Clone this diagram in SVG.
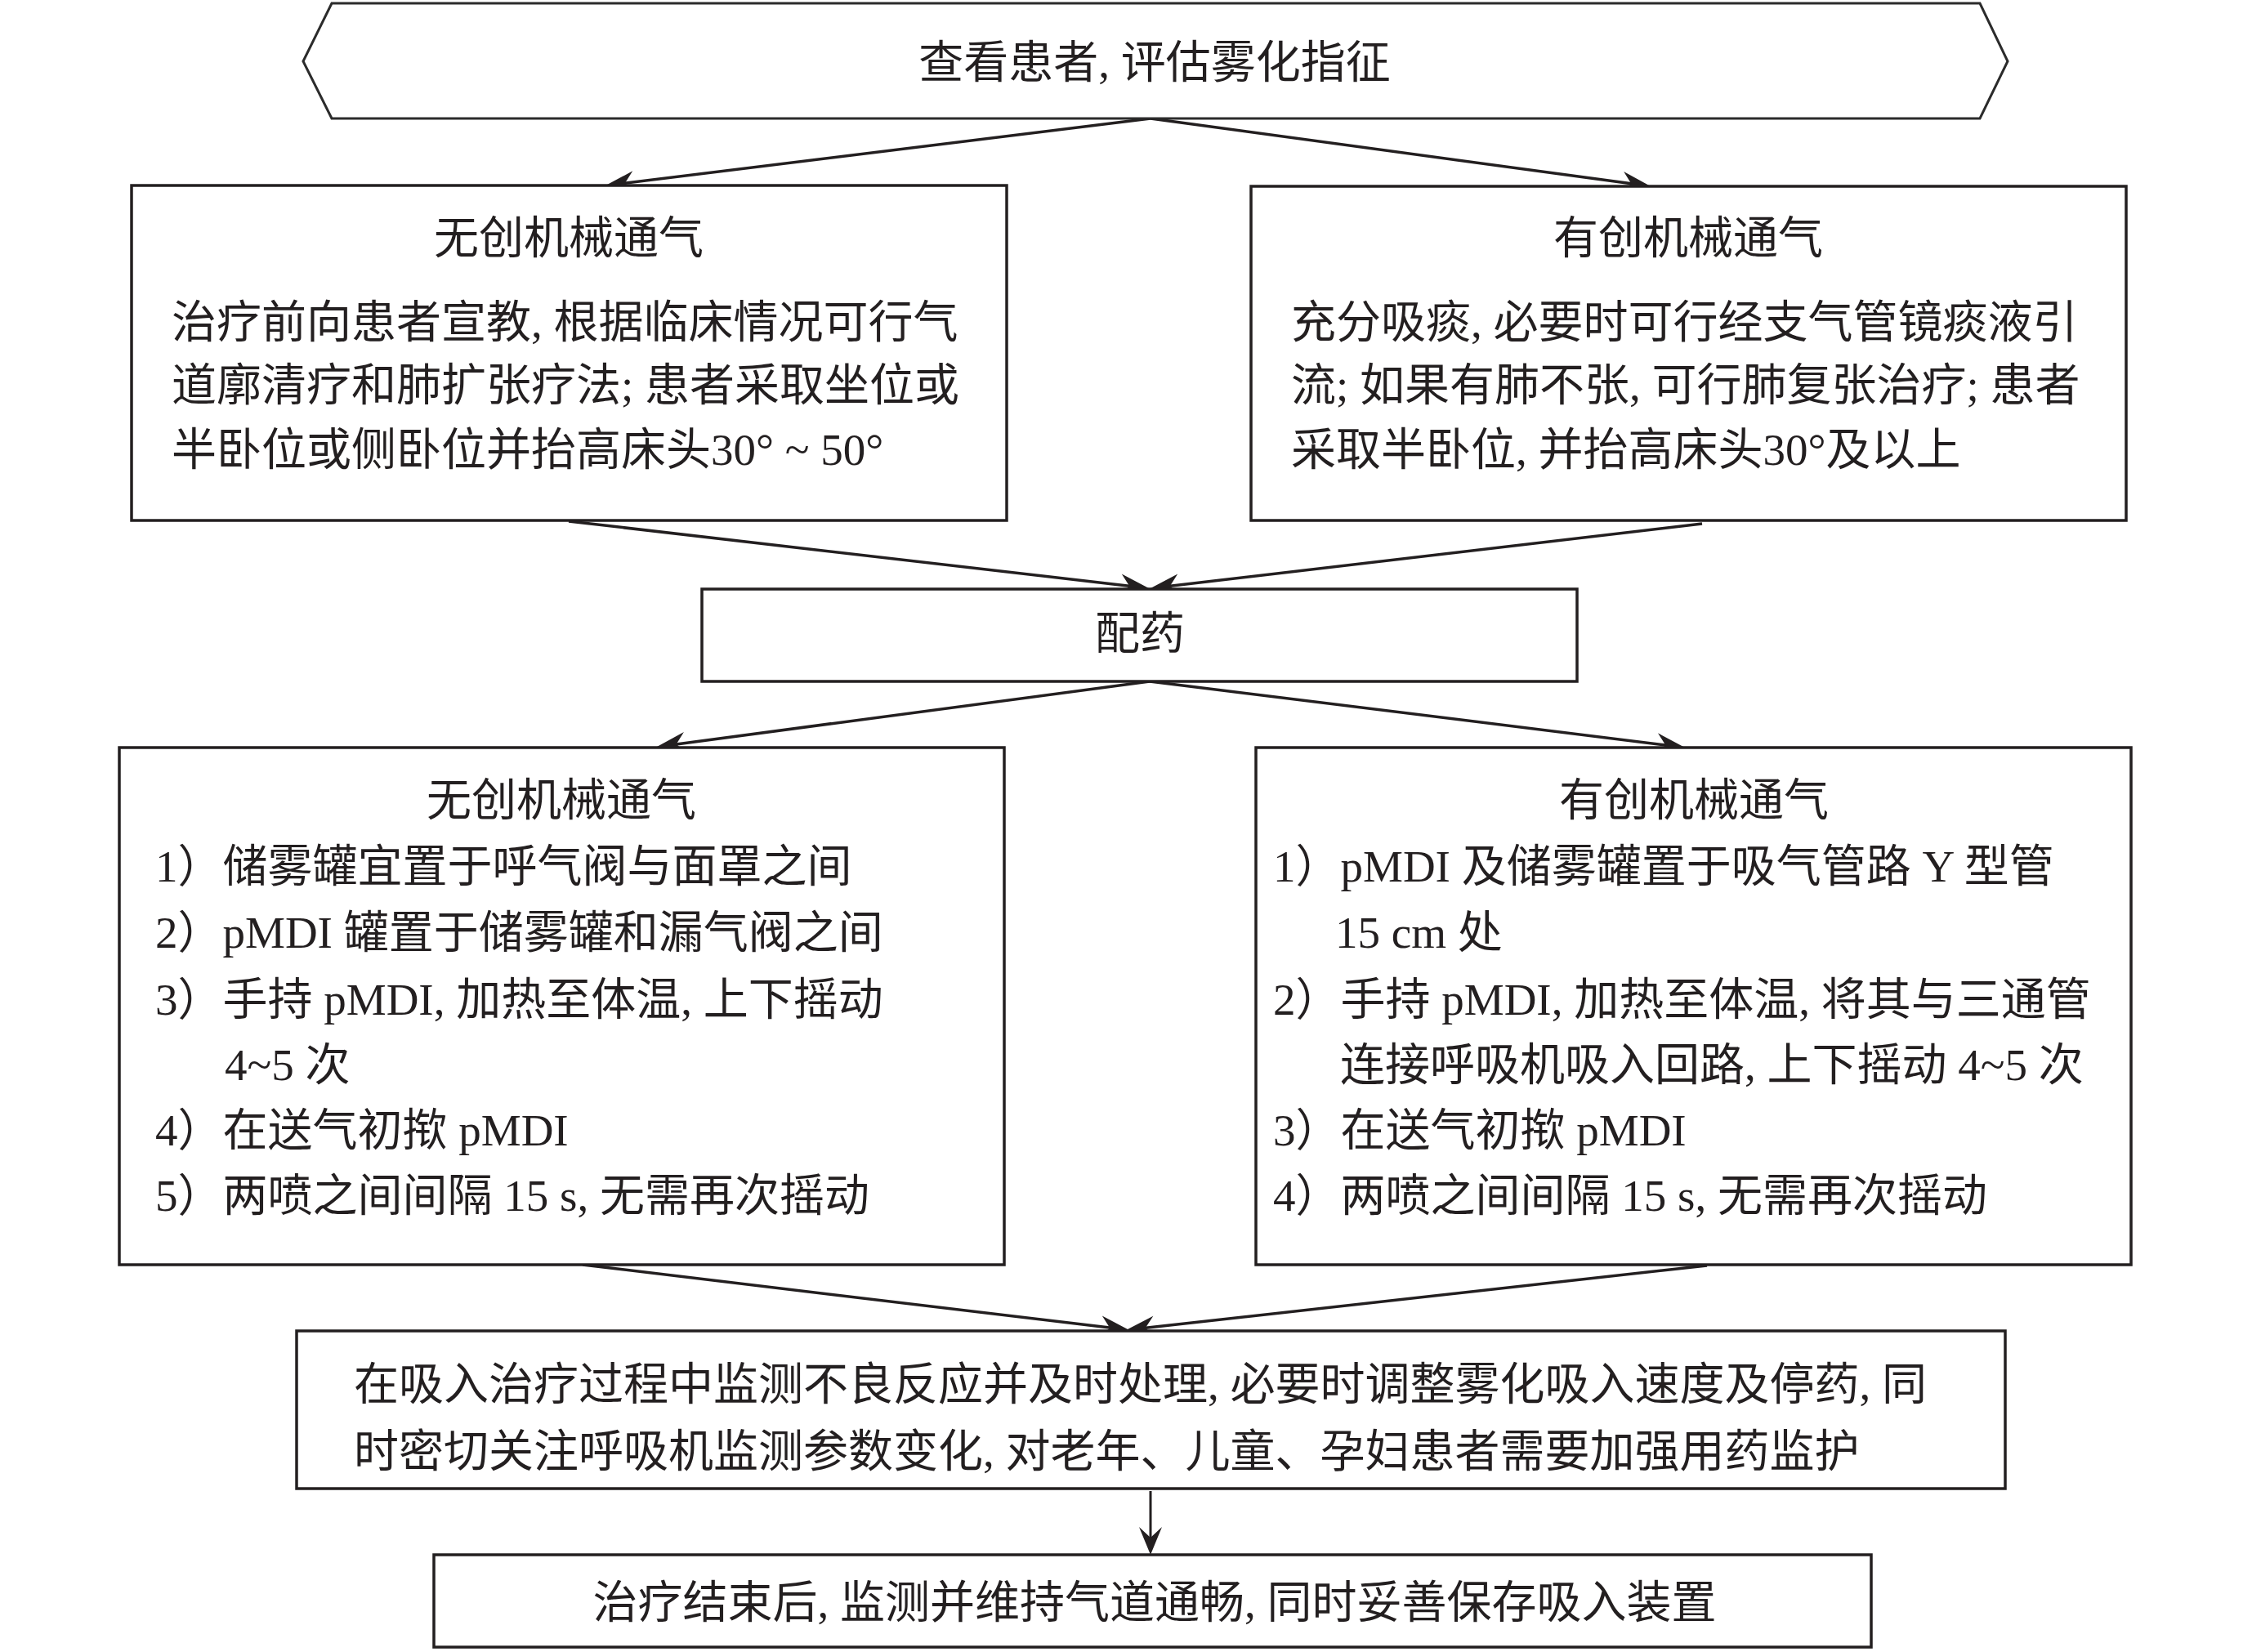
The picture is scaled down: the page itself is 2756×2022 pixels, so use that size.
<svg xmlns="http://www.w3.org/2000/svg" width="2756" height="2022" viewBox="0 0 2756 2022">
<style>
.box{fill:#fff;stroke:#231f20;stroke-width:3.5}
.hex{fill:#fff;stroke:#2b2b2b;stroke-width:3}
.t{font-family:'Liberation Serif','Noto Sans CJK SC',serif;font-size:55px;fill:#231f20}
.c{text-anchor:middle}
.ln{stroke:#231f20;stroke-width:3.5;fill:none}
.ln2{stroke:#231f20;stroke-width:3;fill:none}
</style>
<defs>
<marker id="ah" markerUnits="userSpaceOnUse" markerWidth="40" markerHeight="32" viewBox="-37 -16 40 32" refX="-20" refY="0" orient="auto">
<path d="M0,0 L-35,-13.5 L-24,0 L-35,13.5 Z" fill="#231f20"/>
</marker>
<marker id="ah2" markerUnits="userSpaceOnUse" markerWidth="40" markerHeight="32" viewBox="-37 -16 40 32" refX="-20" refY="0" orient="auto">
<path d="M0,0 L-34,-14 L-21,0 L-34,14 Z" fill="#231f20"/>
</marker>
</defs>
<rect width="2756" height="2022" fill="#fff"/>
<g id="connectors">
<line class="ln" x1="1408" y1="145" x2="761" y2="224.6" marker-end="url(#ah)"/>
<line class="ln" x1="1408" y1="145" x2="2000.2" y2="225.3" marker-end="url(#ah)"/>
<line class="ln" x1="696" y1="638" x2="1386.1" y2="717.7" marker-end="url(#ah)"/>
<line class="ln" x1="2083" y1="641" x2="1427.9" y2="717.7" marker-end="url(#ah)"/>
<line class="ln" x1="1407" y1="834" x2="823.8" y2="911.4" marker-end="url(#ah)"/>
<line class="ln" x1="1407" y1="834" x2="2042.2" y2="912.5" marker-end="url(#ah)"/>
<line class="ln" x1="713" y1="1548" x2="1362.1" y2="1625.6" marker-end="url(#ah)"/>
<line class="ln" x1="2089" y1="1549" x2="1397.9" y2="1625.8" marker-end="url(#ah)"/>
<line class="ln2" x1="1408" y1="1825" x2="1408" y2="1883" marker-end="url(#ah2)"/>
</g>
<g id="start">
<polygon class="hex" points="406,4 2423,4 2457,75 2423,145 406,145 371,75"/>
<text class="t c" x="1413" y="95">查看患者, 评估雾化指征</text>
</g>
<g id="niv-prep">
<rect class="box" x="161" y="227" width="1071" height="410"/>
<text class="t c" x="696" y="310">无创机械通气</text>
<text class="t" x="210" y="413">治疗前向患者宣教, 根据临床情况可行气</text>
<text class="t" x="210" y="490">道廓清疗和肺扩张疗法; 患者采取坐位或</text>
<text class="t" x="210" y="569">半卧位或侧卧位并抬高床头30° ~ 50°</text>
</g>
<g id="iv-prep">
<rect class="box" x="1531" y="228" width="1071" height="409"/>
<text class="t c" x="2066" y="310">有创机械通气</text>
<text class="t" x="1580" y="413">充分吸痰, 必要时可行经支气管镜痰液引</text>
<text class="t" x="1580" y="490">流; 如果有肺不张, 可行肺复张治疗; 患者</text>
<text class="t" x="1580" y="569">采取半卧位, 并抬高床头30°及以上</text>
</g>
<g id="dispense">
<rect class="box" x="859" y="721" width="1071" height="113"/>
<text class="t c" x="1395" y="794">配药</text>
</g>
<g id="niv-steps">
<rect class="box" x="146" y="915" width="1083" height="633"/>
<text class="t c" x="687" y="998">无创机械通气</text>
<text class="t" x="190" y="1079">1）储雾罐宜置于呼气阀与面罩之间</text>
<text class="t" x="190" y="1160">2）pMDI 罐置于储雾罐和漏气阀之间</text>
<text class="t" x="190" y="1242">3）手持 pMDI, 加热至体温, 上下摇动</text>
<text class="t" x="275" y="1322">4~5 次</text>
<text class="t" x="190" y="1402">4）在送气初揿 pMDI</text>
<text class="t" x="190" y="1482">5）两喷之间间隔 15 s, 无需再次摇动</text>
</g>
<g id="iv-steps">
<rect class="box" x="1537" y="915" width="1071" height="633"/>
<text class="t c" x="2073" y="998">有创机械通气</text>
<text class="t" x="1558" y="1079">1）pMDI 及储雾罐置于吸气管路 Y 型管</text>
<text class="t" x="1634" y="1160">15 cm 处</text>
<text class="t" x="1558" y="1242">2）手持 pMDI, 加热至体温, 将其与三通管</text>
<text class="t" x="1640" y="1322">连接呼吸机吸入回路, 上下摇动 4~5 次</text>
<text class="t" x="1558" y="1402">3）在送气初揿 pMDI</text>
<text class="t" x="1558" y="1482">4）两喷之间间隔 15 s, 无需再次摇动</text>
</g>
<g id="monitor">
<rect class="box" x="363" y="1629" width="2091" height="193"/>
<text class="t" x="433" y="1713">在吸入治疗过程中监测不良反应并及时处理, 必要时调整雾化吸入速度及停药, 同</text>
<text class="t" x="433" y="1795">时密切关注呼吸机监测参数变化, 对老年、儿童、孕妇患者需要加强用药监护</text>
</g>
<g id="finish">
<rect class="box" x="531" y="1903" width="1759" height="113"/>
<text class="t c" x="1413" y="1980">治疗结束后, 监测并维持气道通畅, 同时妥善保存吸入装置</text>
</g>
</svg>
